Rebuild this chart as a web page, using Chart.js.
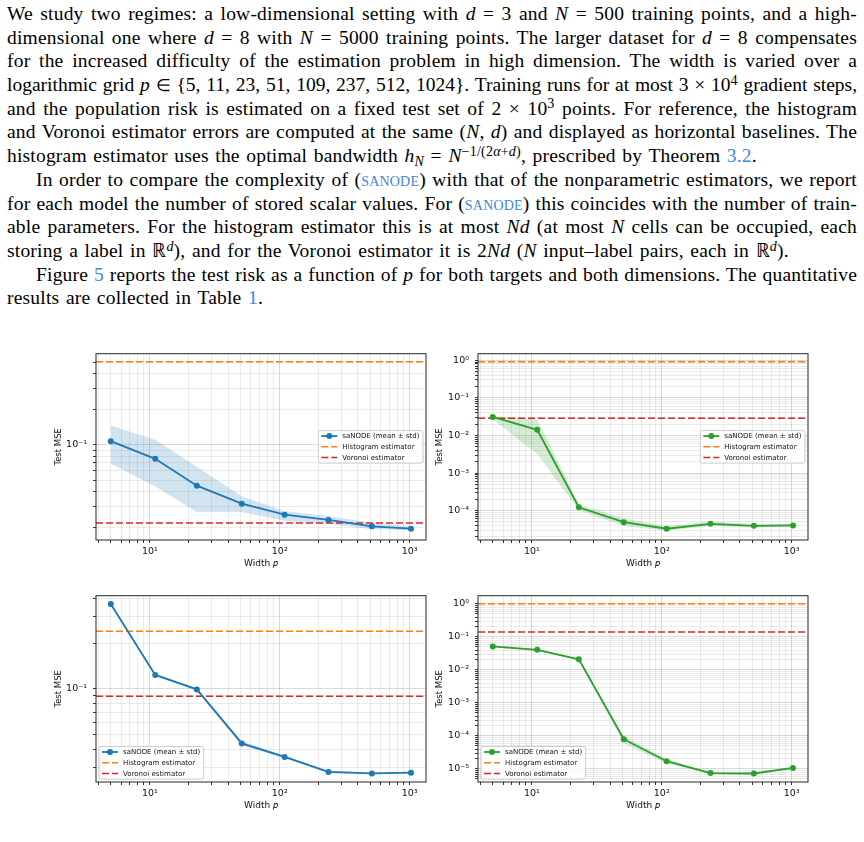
<!DOCTYPE html>
<html>
<head>
<meta charset="utf-8">
<script src="https://cdn.jsdelivr.net/npm/chart.js@4.4.1/dist/chart.umd.min.js"></script>
<style>
  body { margin: 0; width: 864px; height: 842px; overflow: hidden; background: #fff; position: relative; }
  #text { position: absolute; left: 7px; top: 2px; width: 850px; font-family: "Liberation Serif", serif; font-size: 19.5px; letter-spacing: 0.2px; color: #000; }
  #text div { height: 23.7px; line-height: 23.7px; text-align: justify; text-align-last: justify; white-space: nowrap; }
  #text div.end { text-align-last: left; word-spacing: 1.5px; }
  #text div.ind { text-indent: 29px; }
  #text div.tight { letter-spacing: 0; }
  #text sup { font-size: 0.72em; vertical-align: baseline; position: relative; top: -0.45em; }
  #text sub { font-size: 0.72em; vertical-align: baseline; position: relative; top: 0.25em; }
  .el { font-size: 0.85em; }
  .sc { font-variant: small-caps; color: #3f87d9; }
  .lk { color: #3f87d9; }
  canvas { position: absolute; }
</style>
</head>
<body>
<div id="text">
  <div>We study two regimes: a low-dimensional setting with <i>d</i> = 3 and <i>N</i> = 500 training points, and a high-</div>
  <div>dimensional one where <i>d</i> = 8 with <i>N</i> = 5000 training points. The larger dataset for <i>d</i> = 8 compensates</div>
  <div>for the increased difficulty of the estimation problem in high dimension. The width is varied over a</div>
  <div class="tight">logarithmic grid <i>p</i> <span class="el">∈</span> {5, 11, 23, 51, 109, 237, 512, 1024}. Training runs for at most 3 × 10<sup>4</sup> gradient steps,</div>
  <div>and the population risk is estimated on a fixed test set of 2 × 10<sup>3</sup> points. For reference, the histogram</div>
  <div>and Voronoi estimator errors are computed at the same (<i>N</i>, <i>d</i>) and displayed as horizontal baselines. The</div>
  <div class="end">histogram estimator uses the optimal bandwidth <i>h<sub>N</sub></i> = <i>N</i><sup>−1/(2<i>α</i>+<i>d</i>)</sup>, prescribed by Theorem <span class="lk">3.2</span>.</div>
  <div class="ind">In order to compare the complexity of (<span class="sc">sanode</span>) with that of the nonparametric estimators, we report</div>
  <div>for each model the number of stored scalar values. For (<span class="sc">sanode</span>) this coincides with the number of train-</div>
  <div>able parameters. For the histogram estimator this is at most <i>Nd</i> (at most <i>N</i> cells can be occupied, each</div>
  <div class="end">storing a label in ℝ<sup><i>d</i></sup>), and for the Voronoi estimator it is 2<i>Nd</i> (<i>N</i> input–label pairs, each in ℝ<sup><i>d</i></sup>).</div>
  <div class="ind">Figure <span class="lk">5</span> reports the test risk as a function of <i>p</i> for both targets and both dimensions. The quantitative</div>
  <div class="end">results are collected in Table <span class="lk">1</span>.</div>
</div>

<canvas id="c1" width="379" height="238" style="left:51px;top:342px"></canvas>
<canvas id="c2" width="380" height="238" style="left:432px;top:342px"></canvas>
<canvas id="c3" width="379" height="238" style="left:51px;top:584px"></canvas>
<canvas id="c4" width="380" height="238" style="left:432px;top:584px"></canvas>

<script>
// widths p on the log grid
const widths = [5, 11, 23, 51, 109, 237, 512, 1024];
const xMajor = [10, 100, 1000];
const xTickLabels = ['10¹', '10²', '10³'];
const xMin = 3.85, xMax = 1336;

// top-left: d = 3, target 1
const mean1  = [0.107, 0.0758, 0.0449, 0.0316, 0.0255, 0.0230, 0.0203, 0.0194];
const upper1 = [0.145, 0.110, 0.065, 0.0365, 0.0274, 0.0249, 0.0218, 0.0203];
const lower1 = [0.0693, 0.0443, 0.0269, 0.0269, 0.0226, 0.0213, 0.0192, 0.0188];
const hist1 = 0.504, vor1 = 0.0217;
const yMajor1 = [0.1], yLabels1 = ['10⁻¹'];

// top-right: d = 3, target 2
const mean2  = [0.0312, 0.01415, 1.23e-4, 4.93e-5, 3.29e-5, 4.46e-5, 3.94e-5, 4.04e-5];
const upper2 = [0.033, 0.0271, 1.48e-4, 6.2e-5, 3.9e-5, 5.2e-5, 4.4e-5, 4.4e-5];
const lower2 = [0.027, 3.2e-3, 1.02e-4, 3.9e-5, 2.9e-5, 3.9e-5, 3.6e-5, 3.7e-5];
const hist2 = 0.924, vor2 = 0.0288;
const yMajor2 = [1, 0.1, 0.01, 1e-3, 1e-4], yLabels2 = ['10⁰', '10⁻¹', '10⁻²', '10⁻³', '10⁻⁴'];

// bottom-left: d = 8, target 1
const mean3  = [0.366, 0.124, 0.0994, 0.0436, 0.0355, 0.0282, 0.0276, 0.0279];
const upper3 = [0.372, 0.126, 0.101, 0.0452, 0.0362, 0.0287, 0.0280, 0.0283];
const lower3 = [0.360, 0.122, 0.0978, 0.0422, 0.0348, 0.0277, 0.0272, 0.0275];
const hist3 = 0.241, vor3 = 0.0895;
const yMajor3 = [0.1], yLabels3 = ['10⁻¹'];

// bottom-right: d = 8, target 2
const mean4  = [0.0514, 0.0406, 0.0209, 7.96e-5, 1.71e-5, 7.46e-6, 7.25e-6, 1.07e-5];
const upper4 = [0.055, 0.043, 0.0225, 1.0e-4, 2.0e-5, 8.0e-6, 7.7e-6, 1.15e-5];
const lower4 = [0.048, 0.038, 0.0195, 5.9e-5, 1.48e-5, 7.0e-6, 6.8e-6, 1.0e-5];
const hist4 = 1.02, vor4 = 0.141;
const yMajor4 = [1, 0.1, 0.01, 1e-3, 1e-4, 1e-5], yLabels4 = ['10⁰', '10⁻¹', '10⁻²', '10⁻³', '10⁻⁴', '10⁻⁵'];

const blue = '#1f77b4', green = '#2ca02c', orange = '#ff7f0e', red = '#d62728';
const FONT = '"DejaVu Sans", sans-serif';

function pts(ys) { return widths.map((w, i) => ({ x: w, y: ys[i] })); }
function hline(v) { return [{ x: xMin, y: v }, { x: xMax, y: v }]; }

// 1..9 x 10^k ticks, matplotlib style major + minor
function logTicks(min, max) {
  const out = [];
  for (let e = Math.floor(Math.log10(min)); e <= Math.ceil(Math.log10(max)); e++) {
    for (let m = 1; m <= 9; m++) {
      const v = m * Math.pow(10, e);
      if (v >= min && v <= max) out.push({ value: v, major: m === 1 });
    }
  }
  return out;
}

function labelFor(majors, labels) {
  return (value, index, ticks) => {
    if (!ticks[index].major) return '';
    const k = majors.findIndex(m => Math.abs(Math.log10(m) - Math.log10(value)) < 1e-6);
    return k >= 0 ? labels[k] : '';
  };
}

const frameAndLegend = {
  id: 'frameAndLegend',
  afterDatasetsDraw(chart, args, opts) {
    const ctx = chart.ctx, a = chart.chartArea;
    ctx.save();
    ctx.strokeStyle = '#262626';
    ctx.lineWidth = 1;
    ctx.strokeRect(a.left, a.top, a.right - a.left, a.bottom - a.top);

    const items = chart.data.datasets.filter(d => d.inLegend);
    ctx.font = '7px ' + FONT;
    const tw = Math.max(...items.map(d => ctx.measureText(d.label).width));
    const w = 2 + 16 + 5.5 + tw + 4, rowH = 10.7, h = 32.5;
    let x0, y0;
    if (opts.loc === 'right') {
      x0 = a.right - 3 - w;
      y0 = (a.top + a.bottom) / 2 - h / 2;
    } else {
      x0 = a.left + 3;
      y0 = a.bottom - 3 - h;
    }
    ctx.beginPath();
    ctx.roundRect(x0, y0, w, h, 2);
    ctx.fillStyle = 'rgba(255,255,255,0.8)';
    ctx.fill();
    ctx.strokeStyle = '#cccccc';
    ctx.stroke();

    items.forEach((d, i) => {
      const y = y0 + 5.5 + i * rowH;
      ctx.strokeStyle = d.borderColor;
      ctx.lineWidth = d.borderWidth;
      ctx.setLineDash(d.borderDash || []);
      ctx.beginPath();
      ctx.moveTo(x0 + 3, y);
      ctx.lineTo(x0 + 19, y);
      ctx.stroke();
      ctx.setLineDash([]);
      if (d.pointRadius > 0) {
        ctx.fillStyle = d.borderColor;
        ctx.beginPath();
        ctx.arc(x0 + 11, y, 3, 0, Math.PI * 2);
        ctx.fill();
      }
      ctx.fillStyle = '#111';
      ctx.textBaseline = 'middle';
      ctx.fillText(d.label, x0 + 24, y + 0.5);
    });
    ctx.restore();
  }
};

function makeChart(id, p) {
  return new Chart(document.getElementById(id), {
    type: 'line',
    data: {
      datasets: [
        { label: 'saNODE (mean ± std)', inLegend: true, data: pts(p.mean), borderColor: p.color, backgroundColor: p.color,
          borderWidth: 1.8, pointRadius: 3, pointBorderWidth: 0, pointBackgroundColor: p.color, fill: false, order: 0 },
        { label: 'Histogram estimator', inLegend: true, data: hline(p.hist), borderColor: orange, borderWidth: 1.5,
          borderDash: [7, 3], pointRadius: 0, fill: false, order: 1 },
        { label: 'Voronoi estimator', inLegend: true, data: hline(p.vor), borderColor: red, borderWidth: 1.5,
          borderDash: [7, 3], pointRadius: 0, fill: false, order: 1 },
        { label: 'lower', data: pts(p.lower), borderWidth: 0, pointRadius: 0, fill: false, order: 2 },
        { label: 'upper', data: pts(p.upper), borderWidth: 0, pointRadius: 0, fill: '-1', backgroundColor: p.band, order: 2 }
      ]
    },
    options: {
      responsive: false,
      animation: false,
      layout: { padding: { top: 10, right: p.padRight, left: 0, bottom: 0 } },
      plugins: { legend: { display: false }, tooltip: { enabled: false }, frameAndLegend: { loc: p.loc } },
      scales: {
        x: {
          type: 'logarithmic', min: xMin, max: xMax, bounds: 'data',
          afterBuildTicks: s => { s.ticks = logTicks(xMin, xMax); },
          afterFit: s => { s.height = 40; },
          border: { display: false },
          grid: { color: c => c.tick && c.tick.major ? 'rgba(0,0,0,0.15)' : 'rgba(0,0,0,0.08)', tickColor: '#333', tickLength: 3 },
          ticks: { autoSkip: false, maxRotation: 0, padding: 3, color: '#111', font: { family: FONT, size: 9.5 }, callback: labelFor(xMajor, xTickLabels) },
          title: { display: true, text: 'Width 𝑝', color: '#111', font: { family: FONT, size: 9 }, padding: { top: 0, bottom: 11 } }
        },
        y: {
          type: 'logarithmic', min: p.yMin, max: p.yMax, bounds: 'data',
          afterBuildTicks: s => { s.ticks = logTicks(p.yMin, p.yMax); },
          afterFit: s => { s.width = p.yWidth; },
          border: { display: false },
          grid: { color: c => c.tick && c.tick.major ? 'rgba(0,0,0,0.15)' : 'rgba(0,0,0,0.08)', tickColor: '#333', tickLength: 3 },
          ticks: { autoSkip: false, padding: 6, color: '#111', font: { family: FONT, size: 9.5 }, callback: labelFor(p.yMajor, p.yLabels) },
          title: { display: true, text: 'Test MSE', color: '#111', font: { family: FONT, size: 8.5 }, padding: { top: 3, bottom: 0 } }
        }
      }
    },
    plugins: [frameAndLegend]
  });
}

makeChart('c1', { mean: mean1, upper: upper1, lower: lower1, hist: hist1, vor: vor1, color: blue, band: 'rgba(31,119,180,0.2)',
  yMin: 0.01556, yMax: 0.59, yMajor: yMajor1, yLabels: yLabels1, yWidth: 45, padRight: 3, loc: 'right' });
makeChart('c2', { mean: mean2, upper: upper2, lower: lower2, hist: hist2, vor: vor2, color: green, band: 'rgba(44,160,44,0.2)',
  yMin: 1.652e-5, yMax: 1.503, yMajor: yMajor2, yLabels: yLabels2, yWidth: 46, padRight: 4, loc: 'right' });
makeChart('c3', { mean: mean3, upper: upper3, lower: lower3, hist: hist3, vor: vor3, color: blue, band: 'rgba(31,119,180,0.2)',
  yMin: 0.0242, yMax: 0.415, yMajor: yMajor3, yLabels: yLabels3, yWidth: 45, padRight: 3, loc: 'lowerleft' });
makeChart('c4', { mean: mean4, upper: upper4, lower: lower4, hist: hist4, vor: vor4, color: green, band: 'rgba(44,160,44,0.2)',
  yMin: 4.01e-6, yMax: 1.774, yMajor: yMajor4, yLabels: yLabels4, yWidth: 46, padRight: 4, loc: 'lowerleft' });
</script>
</body>
</html>
